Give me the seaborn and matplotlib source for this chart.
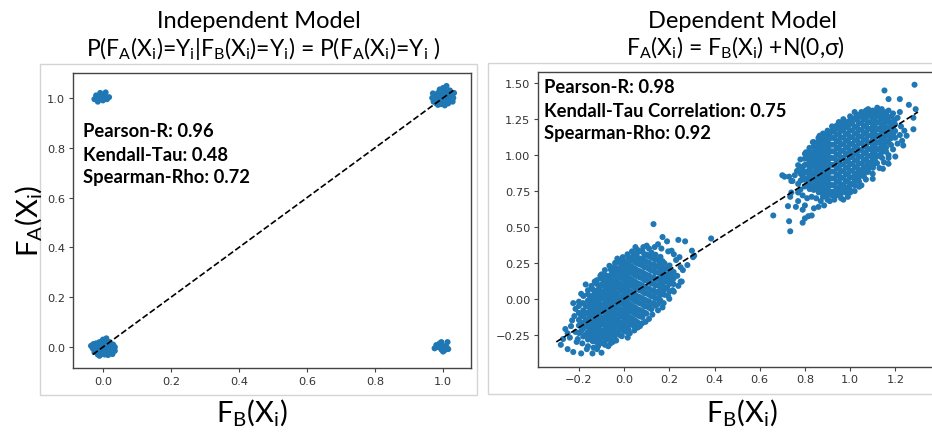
import matplotlib
matplotlib.use("Agg")
import matplotlib.pyplot as plt
from matplotlib.patches import Rectangle
import seaborn as sns
import pandas as pd

# ---------------- data ----------------
# Left panel (independent model): four clusters
left_00_x = [-0.030, -0.020, -0.010, 0.000, 0.010, 0.020, 0.030, -0.025, -0.015, -0.005, 0.005, 0.015,
             0.025, 0.035, -0.020, -0.010, 0.000, 0.010, 0.020, 0.030, -0.015, -0.005, 0.005, 0.015,
             -0.035, -0.020, 0.000, 0.020, 0.035, 0.010, 0.005, -0.010, -0.028, 0.028, 0.012, -0.003]
left_00_y = [-0.005, 0.000, 0.010, 0.030, 0.015, 0.005, -0.010, -0.020, -0.015, -0.010, -0.005, -0.020,
             -0.025, -0.015, 0.015, 0.020, 0.015, 0.025, 0.020, 0.010, -0.030, -0.028, -0.030, -0.032,
             0.005, 0.000, 0.000, -0.005, 0.000, 0.035, -0.020, -0.035, 0.012, -0.028, -0.012, 0.004]
left_11_x = [0.968, 0.975, 0.985, 0.995, 1.005, 1.015, 1.025, 0.972, 0.982, 0.992, 1.002, 1.012,
             1.022, 1.030, 0.978, 0.988, 0.998, 1.008, 1.018, 1.028, 0.985, 0.995, 1.005, 1.015,
             0.970, 0.990, 1.000, 1.020, 1.032, 1.010, 0.980, 1.000, 1.012, 0.996]
left_11_y = [1.000, 1.012, 1.020, 1.028, 1.030, 1.022, 1.010, 0.985, 0.990, 0.995, 1.002, 0.998,
             0.992, 1.000, 1.005, 1.010, 1.015, 1.012, 1.006, 0.985, 0.972, 0.975, 0.970, 0.978,
             1.018, 1.034, 1.040, 1.030, 1.020, 1.048, 0.978, 0.988, 0.982, 1.000]
left_01_x = [-0.025, -0.020, -0.012, -0.008, 0.000, 0.005, 0.012, 0.018, -0.015, 0.000, 0.008, -0.005]
left_01_y = [0.995, 1.010, 1.000, 1.020, 1.005, 1.015, 0.995, 1.003, 0.985, 0.990, 1.022, 0.998]
left_10_x = [0.975, 0.985, 0.990, 0.995, 1.000, 1.005, 1.010, 1.015, 0.995, 1.013, 0.980, 1.000]
left_10_y = [-0.005, 0.000, 0.015, -0.010, 0.005, -0.012, 0.000, -0.008, 0.020, 0.020, 0.008, -0.018]
left_line = [-0.03, 1.03]

# Right panel (dependent model): dense cores given as columns (x, list of y), plus sparse points
right_low_core_x = [-0.200, -0.181, -0.160, -0.139, -0.121, -0.099, -0.081, -0.059, -0.041, -0.018, 0.001,
                    0.019, 0.041, 0.059, 0.081, 0.099, 0.121, 0.139, 0.161, 0.179, 0.201, 0.219]
right_low_core_y = [
    [-0.238, -0.186, -0.147, -0.098],
    [-0.262, -0.209, -0.171, -0.120, -0.081, -0.030],
    [-0.283, -0.232, -0.194, -0.141, -0.103, -0.052, -0.012, 0.032],
    [-0.295, -0.248, -0.199, -0.160, -0.109, -0.069, -0.018, 0.021, 0.066],
    [-0.302, -0.251, -0.213, -0.162, -0.123, -0.072, -0.033, 0.018, 0.057, 0.104],
    [-0.308, -0.259, -0.220, -0.169, -0.130, -0.079, -0.040, 0.011, 0.050, 0.101, 0.142],
    [-0.287, -0.248, -0.197, -0.158, -0.107, -0.068, -0.017, 0.022, 0.073, 0.112, 0.163],
    [-0.283, -0.232, -0.193, -0.142, -0.103, -0.052, -0.013, 0.038, 0.077, 0.128, 0.167, 0.204],
    [-0.259, -0.220, -0.169, -0.130, -0.079, -0.040, 0.011, 0.050, 0.101, 0.140, 0.191, 0.226],
    [-0.253, -0.202, -0.163, -0.112, -0.073, -0.022, 0.017, 0.068, 0.107, 0.158, 0.197, 0.248],
    [-0.225, -0.186, -0.135, -0.096, -0.045, -0.006, 0.045, 0.084, 0.135, 0.174, 0.225, 0.262],
    [-0.213, -0.162, -0.123, -0.072, -0.033, 0.018, 0.057, 0.108, 0.147, 0.198, 0.237, 0.288],
    [-0.185, -0.146, -0.095, -0.056, -0.005, 0.034, 0.085, 0.124, 0.175, 0.214, 0.265, 0.302],
    [-0.163, -0.112, -0.073, -0.022, 0.017, 0.068, 0.107, 0.158, 0.197, 0.248, 0.287, 0.322],
    [-0.127, -0.088, -0.037, 0.002, 0.053, 0.092, 0.143, 0.182, 0.233, 0.272, 0.327],
    [-0.103, -0.052, -0.013, 0.038, 0.077, 0.128, 0.167, 0.218, 0.257, 0.308],
    [-0.072, -0.033, 0.018, 0.057, 0.108, 0.147, 0.198, 0.237, 0.288, 0.322],
    [-0.048, 0.003, 0.042, 0.093, 0.132, 0.183, 0.222, 0.273, 0.307],
    [-0.012, 0.027, 0.078, 0.117, 0.168, 0.207, 0.258, 0.292],
    [0.028, 0.067, 0.118, 0.157, 0.208, 0.247],
    [0.052, 0.103, 0.142, 0.193, 0.232],
    [0.103, 0.142, 0.187],
]
right_low_mid_x = [-0.190, -0.170, -0.150, -0.130, -0.110, -0.090, -0.070, -0.050, -0.030, -0.010, 0.010,
                   0.030, 0.050, 0.070, 0.090, 0.110, 0.130, 0.150, 0.170, 0.190, 0.210]
right_low_mid_y = [
    [-0.225, -0.165, -0.120],
    [-0.250, -0.190, -0.145, -0.095, -0.050],
    [-0.262, -0.215, -0.170, -0.125, -0.080, -0.035, 0.005],
    [-0.275, -0.228, -0.182, -0.138, -0.090, -0.050, 0.000, 0.040],
    [-0.280, -0.235, -0.190, -0.145, -0.100, -0.055, -0.010, 0.035, 0.078],
    [-0.270, -0.225, -0.180, -0.135, -0.090, -0.045, 0.000, 0.045, 0.090, 0.125],
    [-0.262, -0.218, -0.172, -0.128, -0.082, -0.038, 0.008, 0.052, 0.098, 0.140],
    [-0.250, -0.205, -0.160, -0.115, -0.070, -0.025, 0.020, 0.065, 0.110, 0.155, 0.185],
    [-0.235, -0.190, -0.145, -0.100, -0.055, -0.010, 0.035, 0.080, 0.125, 0.170, 0.210],
    [-0.215, -0.170, -0.125, -0.080, -0.035, 0.010, 0.055, 0.100, 0.145, 0.190, 0.228],
    [-0.198, -0.152, -0.108, -0.062, -0.018, 0.028, 0.072, 0.118, 0.162, 0.208, 0.250],
    [-0.178, -0.132, -0.088, -0.042, 0.002, 0.048, 0.092, 0.138, 0.182, 0.228, 0.270],
    [-0.152, -0.108, -0.062, -0.018, 0.028, 0.072, 0.118, 0.162, 0.208, 0.252, 0.290],
    [-0.122, -0.078, -0.032, 0.012, 0.058, 0.102, 0.148, 0.192, 0.238, 0.280],
    [-0.095, -0.050, -0.005, 0.040, 0.085, 0.130, 0.175, 0.220, 0.265, 0.298],
    [-0.062, -0.018, 0.028, 0.072, 0.118, 0.162, 0.208, 0.252, 0.295],
    [-0.030, 0.015, 0.060, 0.105, 0.150, 0.195, 0.240, 0.282],
    [0.005, 0.050, 0.095, 0.140, 0.185, 0.230, 0.270],
    [0.045, 0.090, 0.135, 0.180, 0.225, 0.262],
    [0.080, 0.125, 0.170, 0.212],
    [0.120, 0.165],
]
right_high_core_x = [0.781, 0.799, 0.821, 0.839, 0.861, 0.879, 0.901, 0.919, 0.941, 0.959, 0.981,
                     0.999, 1.021, 1.039, 1.061, 1.079, 1.101, 1.119, 1.141, 1.159, 1.181, 1.199]
right_high_core_y = [
    [0.823, 0.871, 0.918],
    [0.782, 0.829, 0.877, 0.931, 0.975],
    [0.764, 0.808, 0.858, 0.903, 0.951, 0.998, 1.018],
    [0.758, 0.786, 0.834, 0.879, 0.927, 0.974, 1.022, 1.058],
    [0.741, 0.789, 0.838, 0.882, 0.931, 0.978, 1.026, 1.071, 1.092],
    [0.733, 0.770, 0.817, 0.865, 0.912, 0.958, 1.005, 1.053, 1.098, 1.121],
    [0.722, 0.768, 0.815, 0.862, 0.909, 0.955, 1.003, 1.049, 1.096, 1.139],
    [0.721, 0.745, 0.792, 0.838, 0.886, 0.932, 0.980, 1.027, 1.073, 1.121, 1.168],
    [0.724, 0.767, 0.814, 0.861, 0.908, 0.955, 1.002, 1.049, 1.095, 1.143, 1.187],
    [0.731, 0.749, 0.796, 0.843, 0.889, 0.936, 0.983, 1.030, 1.077, 1.123, 1.170, 1.208],
    [0.742, 0.772, 0.818, 0.866, 0.912, 0.959, 1.006, 1.053, 1.100, 1.147, 1.194, 1.229],
    [0.761, 0.798, 0.845, 0.891, 0.938, 0.985, 1.032, 1.078, 1.125, 1.172, 1.218, 1.241],
    [0.789, 0.822, 0.868, 0.915, 0.962, 1.009, 1.056, 1.102, 1.149, 1.196, 1.258],
    [0.818, 0.849, 0.896, 0.942, 0.989, 1.036, 1.083, 1.129, 1.176, 1.223, 1.276],
    [0.852, 0.873, 0.919, 0.966, 1.013, 1.060, 1.107, 1.153, 1.200, 1.247, 1.288],
    [0.883, 0.901, 0.948, 0.994, 1.041, 1.088, 1.135, 1.181, 1.228, 1.296],
    [0.912, 0.927, 0.973, 1.020, 1.067, 1.114, 1.161, 1.207, 1.254, 1.298],
    [0.944, 0.991, 1.038, 1.085, 1.132, 1.178, 1.225, 1.272, 1.301],
    [0.981, 1.021, 1.068, 1.115, 1.161, 1.208, 1.255, 1.290],
    [1.024, 1.052, 1.099, 1.146, 1.192, 1.239, 1.279],
    [1.071, 1.118, 1.165, 1.212, 1.268],
    [1.121, 1.168, 1.214, 1.249],
]
right_high_mid_x = [0.790, 0.810, 0.830, 0.850, 0.870, 0.890, 0.910, 0.930, 0.950, 0.970, 0.990,
                    1.010, 1.030, 1.050, 1.070, 1.090, 1.110, 1.130, 1.150, 1.170, 1.190]
right_high_mid_y = [
    [0.850, 0.900],
    [0.790, 0.838, 0.885, 0.935, 0.978],
    [0.780, 0.825, 0.872, 0.918, 0.965, 1.010],
    [0.768, 0.812, 0.858, 0.905, 0.952, 1.000, 1.045],
    [0.758, 0.802, 0.848, 0.895, 0.942, 0.990, 1.035, 1.078],
    [0.752, 0.795, 0.840, 0.888, 0.935, 0.982, 1.028, 1.075, 1.110],
    [0.745, 0.790, 0.838, 0.885, 0.932, 0.978, 1.025, 1.072, 1.118, 1.150],
    [0.748, 0.790, 0.838, 0.885, 0.932, 0.978, 1.025, 1.072, 1.118, 1.162],
    [0.752, 0.772, 0.820, 0.866, 0.912, 0.960, 1.006, 1.053, 1.100, 1.146, 1.190],
    [0.760, 0.795, 0.842, 0.888, 0.935, 0.982, 1.030, 1.076, 1.122, 1.170, 1.210],
    [0.775, 0.820, 0.868, 0.915, 0.962, 1.008, 1.055, 1.102, 1.148, 1.195, 1.228],
    [0.800, 0.845, 0.892, 0.938, 0.985, 1.032, 1.078, 1.125, 1.172, 1.218, 1.245],
    [0.830, 0.872, 0.918, 0.965, 1.012, 1.058, 1.105, 1.152, 1.198, 1.245],
    [0.860, 0.896, 0.942, 0.990, 1.036, 1.083, 1.130, 1.176, 1.222, 1.265],
    [0.895, 0.925, 0.970, 1.018, 1.065, 1.112, 1.158, 1.205, 1.250, 1.280],
    [0.925, 0.950, 0.996, 1.043, 1.090, 1.137, 1.184, 1.230, 1.272],
    [0.960, 1.005, 1.050, 1.098, 1.145, 1.192, 1.238, 1.280],
    [1.000, 1.045, 1.092, 1.138, 1.185, 1.232, 1.272],
    [1.040, 1.078, 1.125, 1.172, 1.218, 1.262],
    [1.090, 1.135, 1.182, 1.230, 1.262],
    [1.140, 1.190, 1.232],
]
right_sparse_x = [-0.28, -0.26, -0.225, -0.25, -0.225, -0.19, -0.14, -0.10, -0.12, -0.19, -0.10, -0.006,
                  0.016, 0.06, 0.11, 0.20, 0.25, 0.31, 0.15, 0.13, 0.17, 0.24, 0.27, 0.385, 0.19, 0.15,
                  0.08, 0.21, 0.30, 0.305, 0.28, 0.255, -0.24, -0.22, -0.21, -0.16, -0.05, -0.03, 0.05,
                  0.10, 0.23, 0.26, 0.22, 0.17, 0.08, -0.07, -0.17, -0.13, -0.20, -0.175, 0.01,
                  1.285, 1.152, 1.17, 1.22, 1.26, 1.29, 1.28, 1.28, 1.24, 1.23, 1.20, 1.17, 1.02, 1.10,
                  0.77, 0.70, 0.73, 0.74, 0.66, 0.73, 0.735, 0.79, 0.83, 0.86, 0.98, 0.97, 0.77, 0.80,
                  0.885, 0.94, 0.80, 0.815, 0.725, 0.76, 0.79, 0.71, 0.745, 0.77, 0.735, 0.74, 0.84,
                  0.88, 0.90, 0.95, 1.01, 0.835, 0.805, 0.865, 0.94, 0.975, 1.07, 1.16, 1.22, 1.17,
                  1.145, 1.10, 1.04, 1.00, 1.235, 1.25]
right_sparse_y = [-0.32, -0.21, -0.03, -0.35, -0.37, -0.38, -0.38, -0.375, -0.35, 0.035, 0.17, 0.29,
                  -0.27, -0.20, -0.14, 0.00, 0.12, 0.30, -0.035, 0.52, 0.43, 0.41, 0.40, 0.42, 0.40, 0.38,
                  0.335, 0.335, 0.335, 0.29, 0.235, 0.12, -0.27, -0.12, -0.30, -0.33, -0.30, 0.28, 0.36,
                  0.37, 0.27, 0.20, 0.05, -0.06, -0.17, -0.33, 0.10, 0.12, -0.05, -0.10, -0.23,
                  1.49, 1.45, 1.39, 1.39, 1.35, 1.32, 1.26, 1.18, 1.17, 1.10, 0.99, 0.94, 1.30, 1.31,
                  0.93, 0.86, 0.85, 0.82, 0.58, 0.54, 0.47, 0.53, 0.58, 0.64, 0.74, 0.69, 0.74, 0.65,
                  0.65, 0.72, 0.56, 0.575, 0.645, 0.64, 0.62, 0.85, 0.82, 0.68, 0.71, 0.74, 0.63,
                  0.71, 0.69, 0.73, 0.80, 1.09, 1.02, 1.135, 1.205, 1.23, 1.31, 1.30, 1.30, 1.00,
                  0.905, 0.835, 0.78, 0.74, 1.067, 1.135]
# ragged edges around both clouds
right_edge_x = [-0.235, -0.215, -0.205, -0.185, -0.165, -0.135, -0.115, -0.085, -0.060, -0.035, -0.010,
                0.025, 0.045, 0.070, 0.095, 0.125, 0.150, 0.175, 0.195, 0.215, 0.240, 0.235, 0.250,
                0.245, 0.220, 0.195, 0.165, 0.135, 0.110, 0.085, 0.060, 0.035, 0.015, -0.020, -0.040,
                -0.065, -0.085, -0.105, -0.120, -0.145, -0.160, -0.180, -0.200, -0.215, -0.230, -0.250,
                -0.270,
                0.780, 0.790, 0.810, 0.830, 0.850, 0.870, 0.910, 0.930, 0.960, 0.990, 1.020, 1.050,
                1.070, 1.100, 1.130, 1.150, 1.170, 1.190, 1.210, 1.220, 1.225, 1.210, 1.190, 1.170,
                1.140, 1.120, 1.080, 1.050, 1.030, 1.000, 0.970, 0.950, 0.920, 0.900, 0.880, 0.860,
                0.840, 0.820, 0.800, 0.780, 0.765, 0.770, 0.755]
right_edge_y = [-0.19, -0.23, -0.28, -0.31, -0.35, -0.34, -0.33, -0.32, -0.31, -0.29, -0.26,
                -0.24, -0.22, -0.19, -0.16, -0.11, -0.08, -0.03, 0.02, 0.06, 0.09, 0.16, 0.22,
                0.29, 0.31, 0.33, 0.35, 0.36, 0.35, 0.36, 0.34, 0.33, 0.31, 0.27, 0.25,
                0.23, 0.20, 0.16, 0.13, 0.09, 0.06, 0.02, -0.02, -0.07, -0.15, -0.24,
                -0.28,
                0.76, 0.72, 0.70, 0.71, 0.70, 0.68, 0.68, 0.69, 0.70, 0.71, 0.75, 0.79,
                0.83, 0.87, 0.91, 0.95, 0.98, 1.04, 1.08, 1.14, 1.20, 1.26, 1.29, 1.31,
                1.32, 1.33, 1.32, 1.30, 1.28, 1.27, 1.25, 1.23, 1.20, 1.17, 1.15, 1.12,
                1.09, 1.05, 1.01, 0.97, 0.89, 0.80, 0.86]
right_line = [-0.30, 1.30]

left_stats = ["Pearson-R: 0.96", "Kendall-Tau: 0.48", "Spearman-Rho: 0.72"]
right_stats = ["Pearson-R: 0.98", "Kendall-Tau Correlation: 0.75", "Spearman-Rho: 0.92"]
left_xticks = [0.0, 0.2, 0.4, 0.6, 0.8, 1.0]
left_yticks = [0.0, 0.2, 0.4, 0.6, 0.8, 1.0]
right_xticks = [-0.2, 0.0, 0.2, 0.4, 0.6, 0.8, 1.0, 1.2]
right_yticks = [-0.25, 0.0, 0.25, 0.5, 0.75, 1.0, 1.25, 1.5]

# ---------------- tables ----------------
left_df = pd.DataFrame({
    "x": left_00_x + left_11_x + left_01_x + left_10_x,
    "y": left_00_y + left_11_y + left_01_y + left_10_y,
})
rx, ry = [], []
for cx, cys in zip(right_low_core_x + right_low_mid_x + right_high_core_x + right_high_mid_x,
                   right_low_core_y + right_low_mid_y + right_high_core_y + right_high_mid_y):
    for cy in cys:
        rx.append(cx)
        ry.append(cy)
right_df = pd.DataFrame({"x": rx + right_sparse_x + right_edge_x,
                         "y": ry + right_sparse_y + right_edge_y})

# ---------------- style ----------------
sns.set_theme(style="white")
plt.rcParams["font.family"] = ["DejaVu Sans"]
plt.rcParams["mathtext.fontset"] = "custom"
plt.rcParams["mathtext.rm"] = "Lato"
plt.rcParams["mathtext.it"] = "Lato:italic"
plt.rcParams["mathtext.bf"] = "Lato:bold"

W, H = 932, 435
fig = plt.figure(figsize=(W / 100, H / 100), dpi=100)
fig.patch.set_facecolor("white")

def fx(x):
    return x / W

def fy(y):
    return 1 - y / H

# outer light frames
fig.add_artist(Rectangle((fx(40), fy(396)), (477 - 40) / W, (396 - 65) / H, fill=False,
                         edgecolor="#d4d4d4", lw=1.0, transform=fig.transFigure))
fig.add_artist(Rectangle((fx(488), fy(395)), (950 - 488) / W, (395 - 64) / H, fill=False,
                         edgecolor="#d4d4d4", lw=1.0, transform=fig.transFigure))

axL = fig.add_axes([fx(73), fy(369), (471 - 73) / W, (369 - 74) / H])
axR = fig.add_axes([fx(538), fy(367.5), (936 - 538) / W, (367.5 - 72.5) / H])

blue = "#1f77b4"
for ax, df, line in ((axL, left_df, left_line), (axR, right_df, right_line)):
    sns.scatterplot(data=df, x="x", y="y", ax=ax, color=blue, s=19, linewidth=0, edgecolor="none")
    sns.lineplot(x=line, y=line, ax=ax, color="black", lw=1.2, linestyle="--")
    ax.set_xlabel("")
    ax.set_ylabel("")
    for sp in ax.spines.values():
        sp.set_color("#444444")
        sp.set_linewidth(1.0)
    ax.tick_params(axis="both", which="both", direction="out", length=3, width=0.8,
                   color="#444444", labelsize=8.2, labelcolor="#333333", pad=2.5,
                   bottom=True, left=True)

axL.set_xlim(-0.088, 1.082)
axL.set_ylim(-0.084, 1.100)
axL.set_xticks(left_xticks)
axL.set_yticks(left_yticks)
axL.set_xticklabels([f"{t:.1f}" for t in left_xticks])
axL.set_yticklabels([f"{t:.1f}" for t in left_yticks])

axR.set_xlim(-0.381, 1.380)
axR.set_ylim(-0.471, 1.582)
axR.set_xticks(right_xticks)
axR.set_yticks(right_yticks)
axR.set_xticklabels([f"{t:.1f}".replace("-", "\u2212") for t in right_xticks])
axR.set_yticklabels([f"{t:.2f}".replace("-", "\u2212") for t in right_yticks])

# titles
tfont = dict(family=["Lato", "DejaVu Sans"], color="black", ha="center", va="baseline")
fig.text(fx(259), fy(28.5), "Independent Model", fontsize=17, **tfont)
fig.text(fx(263), fy(56),
         r"P(F$_\mathrm{A}$(X$_\mathrm{i}$)=Y$_\mathrm{i}$|F$_\mathrm{B}$(X$_\mathrm{i}$)=Y$_\mathrm{i}$)"
         r" = P(F$_\mathrm{A}$(X$_\mathrm{i}$)=Y$_\mathrm{i}$ )", fontsize=16.5, **tfont)
fig.text(fx(742), fy(28.5), "Dependent Model", fontsize=17, **tfont)
fig.text(fx(735), fy(55),
         r"F$_\mathrm{A}$(X$_\mathrm{i}$) = F$_\mathrm{B}$(X$_\mathrm{i}$) +N(0,σ)", fontsize=16.5, **tfont)

# axis labels
lfont = dict(family=["Lato", "DejaVu Sans"], color="black", ha="center")
fig.text(fx(28), fy(221), r"F$_\mathrm{A}$(X$_\mathrm{i}$)", fontsize=21, rotation=90, va="center", **lfont)
fig.text(fx(252), fy(422), r"F$_\mathrm{B}$(X$_\mathrm{i}$)", fontsize=21, va="baseline", **lfont)
fig.text(fx(742), fy(422), r"F$_\mathrm{B}$(X$_\mathrm{i}$)", fontsize=21, va="baseline", **lfont)

# stats
sfont = dict(family=["Lato", "DejaVu Sans"], fontweight="bold", color="black", ha="left", va="baseline",
             fontsize=13.2)
for i, (ly, ry_) in enumerate(zip((137.3, 160.7, 183.3), (93.3, 116.7, 139.3))):
    fig.text(fx(83), fy(ly), left_stats[i], **sfont)
    fig.text(fx(544), fy(ry_), right_stats[i], **sfont)

fig.savefig("out.png", dpi=100, facecolor="white")
